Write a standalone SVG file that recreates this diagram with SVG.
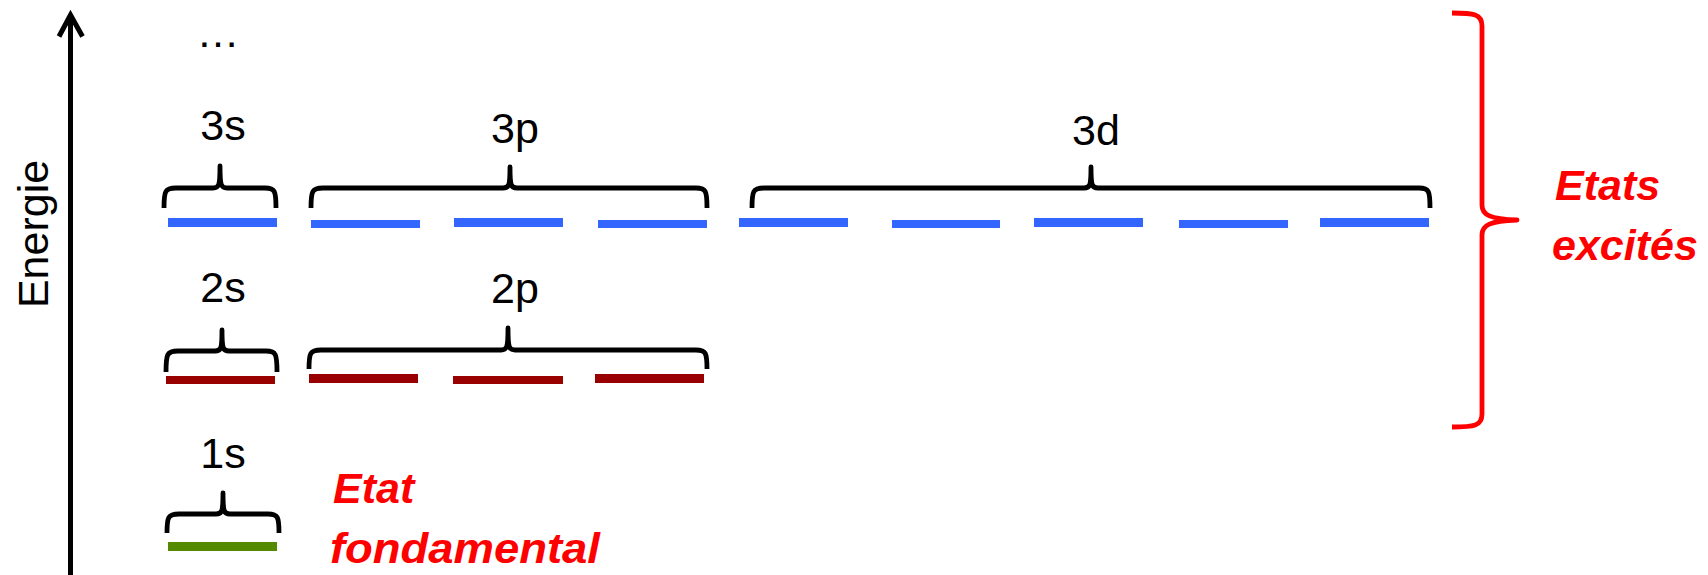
<svg xmlns="http://www.w3.org/2000/svg" width="1708" height="575" viewBox="0 0 1708 575">
<style>
text{font-family:"Liberation Sans",Arial,sans-serif}
.lbl{font-size:43px;fill:#000;text-anchor:middle}
.red{font-size:43px;fill:#FF0000;font-weight:bold;font-style:italic}
.br{fill:none;stroke:#000;stroke-width:4.8;stroke-linecap:butt;stroke-linejoin:round}
.rbr{fill:none;stroke:#FF0000;stroke-width:4.8;stroke-linejoin:round}
.b{fill:#3366FF}
.r{fill:#990000}
.g{fill:#538A00}
.axis{fill:none;stroke:#000;stroke-width:5}
</style>
<rect width="1708" height="575" fill="#fff"/>
<g id="connectors">
<line class="axis" x1="70.5" y1="575" x2="70.5" y2="17"/>
<polyline class="axis" points="59,36.5 70.5,15 82.5,36.5" stroke-linejoin="miter"/>
</g>
<g id="axis-label">
<text class="lbl" transform="translate(48,234) rotate(-90)">Energie</text>
</g>
<g id="dots">
<text class="lbl" x="218" y="47">…</text>
</g>
<g id="n3s">
<text class="lbl" x="223" y="140">3s</text>
<path class="br" d="M164,208 C164,191 165,188 176,188 L213,188 C219,188 220,186 220,166 C220,186 221,188 227,188 L265,188 C275,188 276,191 276,208"/>
<rect class="b" x="168" y="218" width="109" height="9"/>
</g>
<g id="n3p">
<text class="lbl" x="515" y="143">3p</text>
<path class="br" d="M311,208 C311,191 312,188 323,188 L503,188 C509,188 510,186 510,167 C510,186 511,188 517,188 L696,188 C706,188 707,191 707,208"/>
<rect class="b" x="311" y="220" width="109" height="8"/>
<rect class="b" x="454" y="218" width="109" height="9"/>
<rect class="b" x="598" y="220" width="109" height="8"/>
</g>
<g id="n3d">
<text class="lbl" x="1096" y="145">3d</text>
<path class="br" d="M752,208 C752,191 753,188 764,188 L1084,188 C1090,188 1091,186 1091,167 C1091,186 1092,188 1098,188 L1419,188 C1429,188 1430,191 1430,208"/>
<rect class="b" x="739" y="218" width="109" height="9"/>
<rect class="b" x="892" y="220" width="108" height="8"/>
<rect class="b" x="1034" y="218" width="109" height="9"/>
<rect class="b" x="1179" y="220" width="109" height="8"/>
<rect class="b" x="1320" y="218" width="109" height="9"/>
</g>
<g id="n2s">
<text class="lbl" x="223" y="302">2s</text>
<path class="br" d="M166,372 C166,354 167,351 178,351 L215,351 C221,351 222,349 222,330 C222,349 223,351 229,351 L266,351 C276,351 277,354 277,372"/>
<rect class="r" x="166" y="376" width="109" height="8"/>
</g>
<g id="n2p">
<text class="lbl" x="515" y="303">2p</text>
<path class="br" d="M309,369 C309,353 310,350 321,350 L501,350 C507,350 508,348 508,328 C508,348 509,350 515,350 L696,350 C706,350 707,353 707,369"/>
<rect class="r" x="309" y="374" width="109" height="9"/>
<rect class="r" x="453" y="376" width="110" height="8"/>
<rect class="r" x="595" y="374" width="109" height="9"/>
</g>
<g id="n1s">
<text class="lbl" x="223" y="468">1s</text>
<path class="br" d="M167,533 C167,517 168,514 179,514 L216,514 C222,514 223,512 223,493 C223,512 224,514 230,514 L268,514 C278,514 279,517 279,533"/>
<rect class="g" x="168" y="542" width="109" height="9"/>
</g>
<g id="ground-label">
<text class="red" x="333" y="503">Etat</text>
<text class="red" x="330" y="563" textLength="270" lengthAdjust="spacingAndGlyphs">fondamental</text>
</g>
<g id="excited">
<path class="rbr" d="M1452,13 C1474,13 1482,14 1482,26 L1482,205 C1482,215 1490,219 1517,220 C1490,221 1482,225 1482,235 L1482,414 C1482,426 1474,427 1452,427"/>
<text class="red" x="1555" y="200">Etats</text>
<text class="red" x="1552" y="260">excités</text>
</g>
</svg>
